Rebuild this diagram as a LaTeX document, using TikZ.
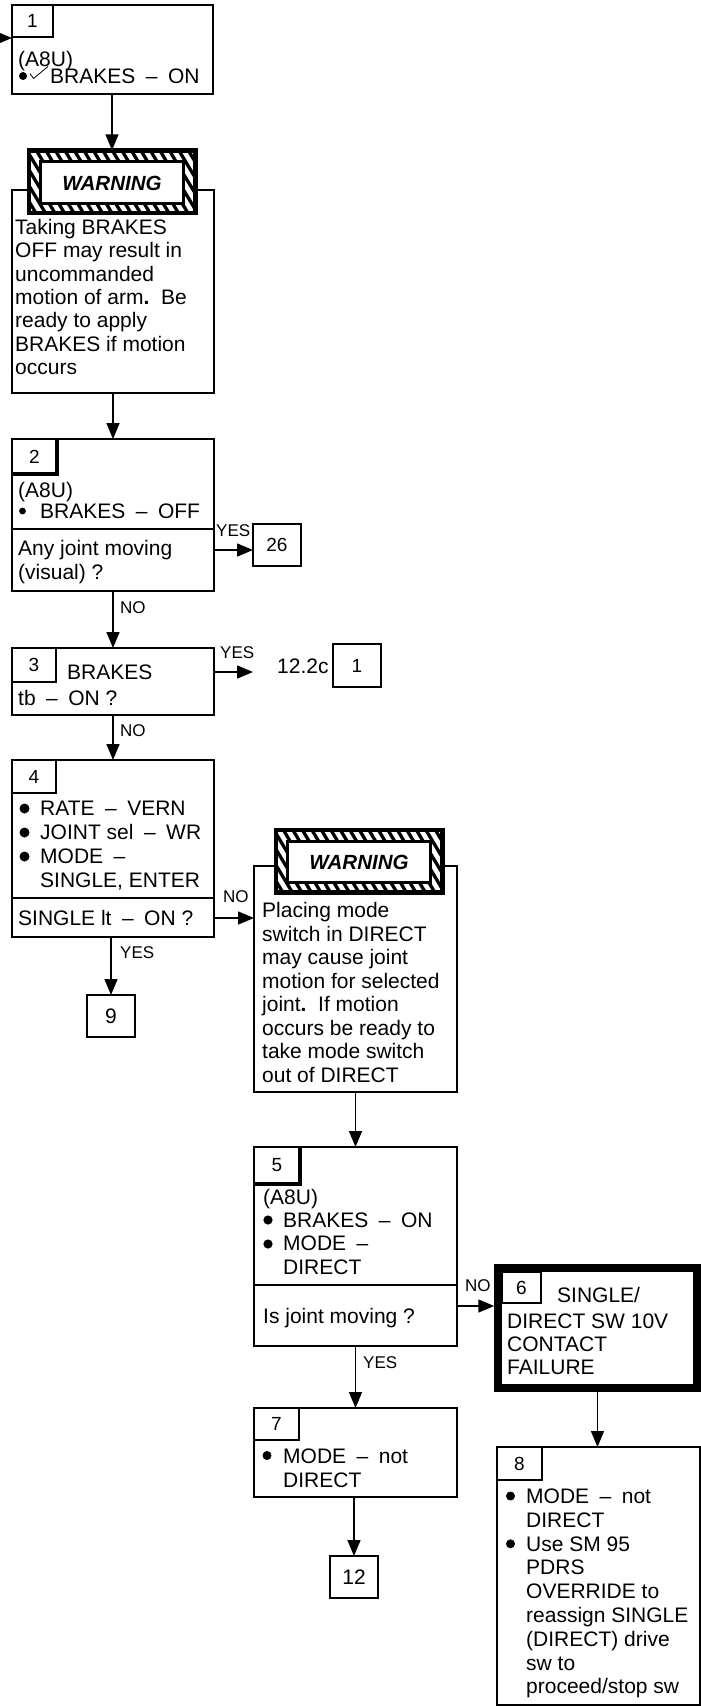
\documentclass[tikz,border=0pt]{standalone}
\usepackage{fontspec}
\setmainfont{Liberation Sans}
\usetikzlibrary{arrows.meta,calc}
\newcommand\fsA{\fontsize{21pt}{23pt}\selectfont}
\newcommand\fsN{\fontsize{19pt}{21pt}\selectfont}
\newcommand\fsL{\fontsize{17pt}{19pt}\selectfont}
\newcommand\fsW{\fontsize{20.5pt}{22pt}\selectfont\bfseries\itshape}
\newcommand\dd{\hspace{0.5em}–\hspace{0.5em}}
\newcommand\tline[4]{\node[tx] (#1) at (#2,#3) {#4};}
\newcommand\lbl[4]{\node[lab] (#1) at (#2,#3) {#4};}
\newcommand\warnsign[3]{%
  \node[fill=white, inner sep=0pt, outer sep=0pt, minimum width=166.5pt, minimum height=62.5pt] (#1) at (#2,#3) {};
  \begin{scope}
    \clip (#1.north west) rectangle (#1.south east);
    \foreach \i in {0,...,24}
      \draw[line width=3.3pt] ($(#1.north west)+(\i*9.5-40,0)$) -- ++(42pt,-70pt);
  \end{scope}
  \draw[fill=white, line width=2.8pt] ($(#1.north west)+(11.5,11.5)$) rectangle ($(#1.south east)+(-11.5,-9.5)$);
  \draw[line width=4.5pt] (#1.north west) rectangle (#1.south east);
  \node[inner sep=0pt, font=\fsW] (#1t) at ($(#1.center)+(0,1.5)$) {WARNING};
}
\begin{document}
\begin{tikzpicture}[x=1pt,y=-1pt,
  box/.style={draw, line width=1.6pt, anchor=north west, inner sep=0pt, outer sep=0pt},
  nbox/.style={box, font=\fsN},
  tx/.style={anchor=base west, inner sep=0pt, font=\fsA},
  lab/.style={anchor=base west, inner sep=0pt, font=\fsL},
  arr/.style={line width=1.6pt, -{Triangle[length=16pt,width=13pt]}},
  thk/.style={line width=4.5pt},
  divider/.style={line width=1.6pt},
]
\useasboundingbox[fill=white] (0,0) rectangle (701,1706);

% ---------- boxes ----------
\node[box, minimum width=201pt, minimum height=89pt] (b1) at (12,5) {};
\node[nbox, minimum width=41pt, minimum height=32pt] (n1) at (12,5) {1};

\node[box, minimum width=202pt, minimum height=203pt] (wb1) at (12,190) {};
\warnsign{w1}{112}{181.5}

\node[box, minimum width=202pt, minimum height=152pt] (b2) at (12,439) {};
\node[nbox, minimum width=45pt, minimum height=35pt] (n2) at (12,439) {2};
\draw[thk] (n2.north east) -- (n2.south east) -- (n2.south west);
\draw[divider] (b2.west |- 0,529) -- (b2.east |- 0,529);

\node[nbox, minimum width=48pt, minimum height=42pt] (b26) at (253,524) {26};

\node[box, minimum width=202pt, minimum height=67pt] (b3) at (12,648) {};
\node[nbox, minimum width=44pt, minimum height=34pt] (n3) at (12,648) {3};

\node[anchor=base west, inner sep=0pt, font=\fsA] (ref122) at (277,673.5) {12.2c};
\node[nbox, minimum width=48pt, minimum height=43pt] (r1) at (333,644) {1};

\node[box, minimum width=202pt, minimum height=177pt] (b4) at (12,760) {};
\node[nbox, minimum width=44pt, minimum height=33pt] (n4) at (12,760) {4};
\draw[divider] (b4.west |- 0,898) -- (b4.east |- 0,898);

\node[box, font=\fsA, minimum width=48pt, minimum height=42pt] (b9) at (87,995) {9};

\node[box, minimum width=203pt, minimum height=226pt] (wb2) at (254,866) {};
\warnsign{w2}{359}{861}

\node[box, minimum width=203pt, minimum height=199pt] (b5) at (254,1147) {};
\node[nbox, minimum width=46pt, minimum height=37pt] (n5) at (254,1147) {5};
\draw[thk] (n5.north east) -- (n5.south east) -- (n5.south west);
\draw[divider] (b5.west |- 0,1285) -- (b5.east |- 0,1285);

\node[draw, line width=7.5pt, inner sep=0pt, outer sep=3.75pt, minimum width=199pt, minimum height=120pt] (b6) at (597.5,1328) {};
\node[nbox, minimum width=39pt, minimum height=31pt] (n6) at (502,1272) {6};

\node[box, minimum width=203pt, minimum height=89pt] (b7) at (254,1408) {};
\node[nbox, minimum width=45pt, minimum height=32pt] (n7) at (254,1408) {7};

\node[box, font=\fsA, minimum width=48pt, minimum height=42pt] (b12) at (330,1556) {12};

\node[box, minimum width=203pt, minimum height=258pt] (b8) at (497,1447) {};
\node[nbox, minimum width=45pt, minimum height=33pt] (n8) at (497,1447) {8};

% ---------- texts ----------
% box 1
\tline{t1a}{18}{66}{(A8U)}
\fill (23,76) circle (4pt);
\draw[line width=0.8pt, line join=miter] (30,73.5) -- (33.5,78.5) -- (48,66.5);
\tline{t1b}{50}{83.5}{BRAKES\dd ON}

% warning 1
\tline{w1a}{15}{234.5}{Taking BRAKES}
\tline{w1b}{15}{257.8}{OFF may result in}
\tline{w1c}{15}{281.1}{uncommanded}
\tline{w1d}{15}{304.4}{motion of arm\textbf{.}\ \ Be}
\tline{w1e}{15}{327.7}{ready to apply}
\tline{w1f}{15}{351}{BRAKES if motion}
\tline{w1g}{15}{374.3}{occurs}

% box 2
\tline{t2a}{18}{497}{(A8U)}
\fill (22.5,511) circle (3.4pt);
\tline{t2b}{40}{518.5}{BRAKES\dd OFF}
\tline{t2c}{18}{555.5}{Any joint moving}
\tline{t2d}{18}{579.5}{(visual) ?}

% box 3
\tline{t3a}{67}{679.5}{BRAKES}
\tline{t3b}{18}{705.5}{tb\dd ON ?}

% box 4
\fill (24.5,808.5) circle (5pt);
\fill (24.5,832.5) circle (5pt);
\fill (24.5,856.5) circle (5pt);
\tline{t4a}{40}{815.5}{RATE\dd VERN}
\tline{t4b}{40}{839.5}{JOINT sel\dd WR}
\tline{t4c}{40}{863.5}{MODE\dd}
\tline{t4d}{40}{887.5}{SINGLE, ENTER}
\tline{t4e}{18}{925}{SINGLE lt\dd ON ?}

% warning 2
\tline{w2a}{262}{917.5}{Placing mode}
\tline{w2b}{262}{941.07}{switch in DIRECT}
\tline{w2c}{262}{964.64}{may cause joint}
\tline{w2d}{262}{988.21}{motion for selected}
\tline{w2e}{262}{1011.78}{joint\textbf{.}\ \ If motion}
\tline{w2f}{262}{1035.35}{occurs be ready to}
\tline{w2g}{262}{1058.92}{take mode switch}
\tline{w2h}{262}{1082.5}{out of DIRECT}

% box 5
\tline{t5a}{263}{1204.5}{(A8U)}
\fill (268,1220) circle (4.6pt);
\fill (268,1244) circle (4.6pt);
\tline{t5b}{283}{1227.5}{BRAKES\dd ON}
\tline{t5c}{283}{1250.8}{MODE\dd}
\tline{t5d}{283}{1274}{DIRECT}
\tline{t5e}{263}{1323}{Is joint moving ?}

% box 6
\tline{t6a}{557}{1302.5}{SINGLE/}
\tline{t6b}{507}{1328.5}{DIRECT SW 10V}
\tline{t6c}{507}{1351.5}{CONTACT}
\tline{t6d}{507}{1374.5}{FAILURE}

% box 7
\fill (267,1455.5) circle (4.5pt);
\tline{t7a}{283}{1463.5}{MODE\dd not}
\tline{t7b}{283}{1487.5}{DIRECT}

% box 8
\fill (510.5,1496) circle (4.5pt);
\fill (510.5,1543.8) circle (4.5pt);
\tline{t8a}{526}{1503.5}{MODE\dd not}
\tline{t8b}{526}{1527.3}{DIRECT}
\tline{t8c}{526}{1551.1}{Use SM 95}
\tline{t8d}{526}{1574.9}{PDRS}
\tline{t8e}{526}{1598.7}{OVERRIDE to}
\tline{t8f}{526}{1622.5}{reassign SINGLE}
\tline{t8g}{526}{1646.3}{(DIRECT) drive}
\tline{t8h}{526}{1670.1}{sw to}
\tline{t8i}{526}{1693.9}{proceed/stop sw}

% ---------- labels ----------
\lbl{l1}{216}{536}{YES}
\lbl{l2}{120}{613}{NO}
\lbl{l3}{220}{658}{YES}
\lbl{l4}{120}{736}{NO}
\lbl{l5}{223}{902}{NO}
\lbl{l6}{120}{958}{YES}
\lbl{l7}{465}{1291}{NO}
\lbl{l8}{363}{1368}{YES}

% ---------- connectors ----------
\coordinate (in1) at (-6,38);
\draw[arr] (in1) -- (in1 -| b1.west);
\draw[arr] (w1.north |- b1.south) -- (w1.north);
\draw[arr] (wb1.south) -- (b2.north);
\coordinate (y26) at (0,550);
\draw[arr] (b2.east |- y26) -- (b26.west |- y26);
\draw[arr] (b2.south) -- (b3.north);
\coordinate (c122) at (253,672);
\draw[arr] (b3.east |- c122) -- (c122);
\draw[arr] (b3.south) -- (b4.north);
\coordinate (y4) at (0,918);
\draw[arr] (b4.east |- y4) -- (wb2.west |- y4);
\draw[arr] (b9.north |- b4.south) -- (b9.north);
\draw[arr] (wb2.south) -- (b5.north);
\coordinate (y5) at (0,1306);
\draw[arr] (b5.east |- y5) -- (b6.west |- y5);
\draw[arr] (b5.south) -- (b7.north);
\draw[arr] (b6.south) -- (b6.south |- b8.north);
\draw[arr] (b12.north |- b7.south) -- (b12.north);
\end{tikzpicture}
\end{document}
